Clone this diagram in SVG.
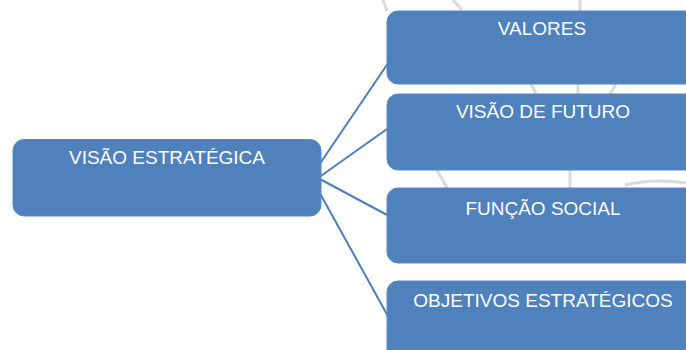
<svg xmlns="http://www.w3.org/2000/svg" width="686" height="350" viewBox="0 0 686 350">
<style>
.box{fill:#4F81BD;stroke:#5A8AC4;stroke-width:1}
.lbl{fill:#FFFFFF;font-family:"Liberation Sans",Arial,sans-serif;font-size:19px;text-anchor:middle}
.con{stroke:#4A7EBB;stroke-width:2;fill:none}
.bg{stroke:#DADADA;stroke-width:3;fill:none}
</style>
<rect width="686" height="350" fill="#FFFFFF"/>
<g id="background">
<path class="bg" d="M383 0 L387 11"/>
<path class="bg" d="M453 0 L462 10"/>
<path class="bg" d="M580 0 L580 11"/>
<path class="bg" d="M531 84 L536 94"/>
<path class="bg" d="M578 84 L578 94"/>
<path class="bg" d="M616 84 L610 94"/>
<path class="bg" d="M437 170 L447 188"/>
<path class="bg" d="M570 170 L570 188"/>
<path class="bg" d="M625 185 Q655 178 686 183"/>
</g>
<g id="connectors">
<path class="con" d="M317 168 L397 50"/>
<path class="con" d="M318 178 L387 129"/>
<path class="con" d="M318 178 L389 216"/>
<path class="con" d="M317 188 L389 318"/>
</g>
<g id="visao-estrategica">
<rect class="box" x="13" y="139.5" width="308" height="76.5" rx="11"/>
<text class="lbl" x="167" y="164">VISÃO ESTRATÉGICA</text>
</g>
<g id="valores">
<rect class="box" x="387" y="11" width="310" height="73" rx="11"/>
<text class="lbl" x="542" y="35">VALORES</text>
</g>
<g id="visao-de-futuro">
<rect class="box" x="387" y="94" width="310" height="76" rx="11"/>
<text class="lbl" x="543" y="118">VISÃO DE FUTURO</text>
</g>
<g id="funcao-social">
<rect class="box" x="387" y="188" width="310" height="75" rx="11"/>
<text class="lbl" x="543" y="215">FUNÇÃO SOCIAL</text>
</g>
<g id="objetivos-estrategicos">
<rect class="box" x="387" y="281" width="310" height="80" rx="11"/>
<text class="lbl" x="543" y="307">OBJETIVOS ESTRATÉGICOS</text>
</g>
</svg>
